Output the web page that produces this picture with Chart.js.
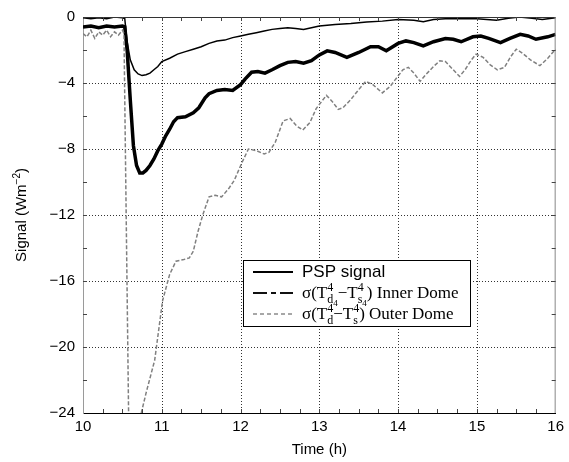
<!DOCTYPE html>
<html>
<head>
<meta charset="utf-8">
<script src="https://cdn.jsdelivr.net/npm/chart.js@4.4.1/dist/chart.umd.min.js"></script>
<style>
  html, body { margin: 0; padding: 0; background: #fff; }
  canvas { display: block; }
</style>
</head>
<body>
<canvas id="chartCanvas" width="569" height="462"></canvas>
<script>
// PSP signal (thin black)
const pspTime = [10.0, 10.1, 10.2, 10.3, 10.4, 10.5, 10.53, 10.56, 10.6, 10.65, 10.7, 10.75, 10.8, 10.85, 10.9, 10.95,
    11.0, 11.1, 11.2, 11.3, 11.4, 11.5, 11.6, 11.7, 11.8, 11.9, 12.0, 12.1, 12.2, 12.3, 12.4, 12.5, 12.6, 12.7, 12.8, 12.9,
    13.0, 13.2, 13.4, 13.6, 13.8, 14.0, 14.2, 14.32, 14.45, 14.6, 14.8, 15.0, 15.25, 15.4, 15.54, 15.7, 15.83, 16.0];
const pspSignal = [-0.05, -0.1, -0.05, -0.1, 0.0, -0.05, -0.1, -1.5, -2.6, -3.2, -3.45, -3.55, -3.5, -3.4, -3.2, -3.0,
    -2.7, -2.5, -2.25, -2.1, -1.95, -1.8, -1.6, -1.45, -1.4, -1.25, -1.15, -1.05, -0.95, -0.85, -0.75, -0.7, -0.65, -0.7, -0.75, -0.65,
    -0.55, -0.45, -0.4, -0.3, -0.25, -0.15, -0.2, -0.28, -0.15, -0.1, -0.1, -0.1, -0.2, -0.08, 0.0, -0.08, -0.15, -0.05];

// inner dome (thick black)
const innerTime = [10.0, 10.1, 10.2, 10.3, 10.4, 10.5, 10.53, 10.56, 10.6, 10.64, 10.68, 10.72, 10.76, 10.8, 10.85, 10.9, 10.95,
    11.0, 11.05, 11.1, 11.15, 11.2, 11.3, 11.4, 11.47, 11.55, 11.6, 11.7, 11.8, 11.9, 12.0, 12.06, 12.14, 12.22, 12.31, 12.4, 12.5,
    12.6, 12.7, 12.8, 12.9, 13.0, 13.1, 13.2, 13.35, 13.5, 13.65, 13.75, 13.85, 14.0, 14.1, 14.2, 14.32, 14.45, 14.6, 14.7, 14.8,
    14.95, 15.05, 15.15, 15.3, 15.42, 15.55, 15.65, 15.75, 15.9, 16.0];
const innerSignal = [-0.6, -0.55, -0.65, -0.55, -0.6, -0.55, -0.6, -2.0, -5.0, -7.8, -9.0, -9.45, -9.45, -9.3, -9.0, -8.6, -8.1,
    -7.7, -7.2, -6.8, -6.35, -6.1, -6.05, -5.8, -5.5, -4.9, -4.65, -4.45, -4.4, -4.45, -4.1, -3.75, -3.35, -3.3, -3.4, -3.2, -2.95,
    -2.75, -2.7, -2.8, -2.65, -2.3, -2.05, -2.15, -2.45, -2.15, -1.8, -1.8, -2.05, -1.6, -1.45, -1.55, -1.75, -1.5, -1.3, -1.35, -1.5,
    -1.2, -1.15, -1.3, -1.55, -1.3, -1.05, -1.15, -1.35, -1.2, -1.05];

// outer dome (grey dashed), drops off the bottom of the axis just after 10.5 h
const outerTime = [10.0, 10.05, 10.1, 10.15, 10.2, 10.25, 10.3, 10.35, 10.4, 10.45, 10.5, 10.52, 10.58, 10.6, 10.68, 10.74,
    10.8, 10.91, 11.01, 11.1, 11.18, 11.28, 11.35, 11.4, 11.46, 11.52, 11.6, 11.68, 11.76, 11.85, 11.92, 12.02, 12.1, 12.2, 12.3,
    12.36, 12.44, 12.54, 12.63, 12.71, 12.79, 12.88, 12.96, 13.09, 13.16, 13.24, 13.3, 13.4, 13.5, 13.59, 13.68, 13.8, 13.9, 13.98,
    14.06, 14.13, 14.2, 14.28, 14.35, 14.45, 14.53, 14.6, 14.7, 14.78, 14.85, 14.93, 14.99, 15.08, 15.17, 15.26, 15.35, 15.43, 15.5,
    15.58, 15.68, 15.8, 15.9, 16.0];
const outerSignal = [-1.0, -1.2, -0.8, -1.3, -0.9, -1.1, -0.8, -1.2, -0.9, -1.1, -0.8, -1.0, -24.5, -40, -40, -24,
    -22.8, -20.8, -17.2, -15.6, -14.8, -14.7, -14.6, -14.2, -13.0, -12.0, -10.9, -10.8, -10.9, -10.4, -9.9, -8.8, -8.0, -8.1, -8.3,
    -8.2, -7.6, -6.3, -6.15, -6.6, -6.85, -6.4, -5.55, -4.75, -5.1, -5.6, -5.5, -5.0, -4.4, -3.9, -4.1, -4.6, -4.2, -3.7,
    -3.2, -3.05, -3.4, -3.9, -3.5, -3.0, -2.65, -2.7, -3.2, -3.6, -3.2, -2.6, -2.25, -2.45, -2.9, -3.2, -3.05, -2.4, -1.95,
    -2.2, -2.6, -2.95, -2.5, -1.95];

const xTickLabels = ["10", "11", "12", "13", "14", "15", "16"];
const yTickLabels = ["0", "\u22124", "\u22128", "\u221212", "\u221216", "\u221220", "\u221224"];

const sansFont = "'Liberation Sans', Arial, sans-serif";
const serifFont = "'Liberation Serif', 'Times New Roman', serif";

function toPoints(t, v) {
    return t.map(function (x, i) {
        return { x: x, y: v[i] };
    });
}

// text with stacked super/subscripts, e.g. T with ^4 and _d
function richWidth(ctx, parts, size, family) {
    let w = 0;
    parts.forEach(function (p) {
        ctx.font = size + "px " + family;
        w += ctx.measureText(p.t || "").width;
        let extra = 0;
        ctx.font = Math.round(size * 0.68) + "px " + family;
        if (p.sup) extra = Math.max(extra, ctx.measureText(p.sup).width);
        if (p.sub) {
            let sw = ctx.measureText(p.sub).width;
            if (p.sub2) {
                ctx.font = Math.round(size * 0.5) + "px " + family;
                sw += ctx.measureText(p.sub2).width;
            }
            extra = Math.max(extra, sw);
        }
        w += extra;
    });
    return w;
}

function drawRich(ctx, x, y, parts, size, family) {
    ctx.textAlign = "left";
    ctx.textBaseline = "alphabetic";
    parts.forEach(function (p) {
        ctx.font = size + "px " + family;
        ctx.fillText(p.t || "", x, y);
        x += ctx.measureText(p.t || "").width;
        let extra = 0;
        const small = Math.round(size * 0.68);
        ctx.font = small + "px " + family;
        if (p.sup) {
            ctx.fillText(p.sup, x, y - size * 0.42);
            extra = Math.max(extra, ctx.measureText(p.sup).width);
        }
        if (p.sub) {
            ctx.fillText(p.sub, x, y + size * 0.3);
            let sw = ctx.measureText(p.sub).width;
            if (p.sub2) {
                ctx.font = Math.round(size * 0.5) + "px " + family;
                ctx.fillText(p.sub2, x + sw, y + size * 0.45);
                sw += ctx.measureText(p.sub2).width;
            }
            extra = Math.max(extra, sw);
        }
        x += extra;
    });
}

const legendRows = [
    { parts: [{ t: "PSP signal" }], family: sansFont, color: "#000", width: 2, dash: [] },
    {
        parts: [{ t: "\u03c3(T", sup: "4", sub: "d", sub2: "4" }, { t: "\u2212T", sup: "4", sub: "s", sub2: "4" }, { t: ") Inner Dome" }],
        family: serifFont, color: "#111", width: 2, dash: [14, 4, 5, 4]
    },
    {
        parts: [{ t: "\u03c3(T", sup: "4", sub: "d" }, { t: "\u2212T", sup: "4", sub: "s" }, { t: ") Outer Dome" }],
        family: serifFont, color: "#8a8a8a", width: 1.5, dash: [4, 3]
    }
];

// dotted grid at the labelled ticks, under the curves
const dottedGrid = {
    id: "dottedGrid",
    beforeDatasetsDraw: function (chart) {
        const ctx = chart.ctx;
        const area = chart.chartArea;
        const xs = chart.scales.x;
        const ys = chart.scales.y;
        ctx.save();
        ctx.strokeStyle = "#333";
        ctx.lineWidth = 1;
        ctx.setLineDash([1, 2]);
        ctx.beginPath();
        xTickLabels.slice(1, -1).forEach(function (l) {
            const px = Math.round(xs.getPixelForValue(parseFloat(l))) + 0.5;
            ctx.moveTo(px, area.top);
            ctx.lineTo(px, area.bottom);
        });
        yTickLabels.slice(1, -1).forEach(function (l, i) {
            const py = Math.round(ys.getPixelForValue(-4 * (i + 1))) + 0.5;
            ctx.moveTo(area.left, py);
            ctx.lineTo(area.right, py);
        });
        ctx.stroke();
        ctx.restore();
    }
};

const decorations = {
    id: "decorations",
    afterDraw: function (chart) {
        const ctx = chart.ctx;
        const area = chart.chartArea;
        const xs = chart.scales.x;
        const ys = chart.scales.y;
        ctx.save();

        // frame: top and right edges
        ctx.lineWidth = 1;
        ctx.strokeStyle = "#333";
        ctx.beginPath();
        ctx.moveTo(area.left, area.top + 0.5);
        ctx.lineTo(area.right, area.top + 0.5);
        ctx.stroke();
        ctx.strokeStyle = "#888";
        ctx.beginPath();
        ctx.moveTo(area.right - 0.5, area.top);
        ctx.lineTo(area.right - 0.5, area.bottom);
        ctx.stroke();

        // inward minor ticks on all four sides
        ctx.strokeStyle = "#444";
        ctx.beginPath();
        for (let t = 10.25; t < 16; t += 0.25) {
            const px = Math.round(xs.getPixelForValue(t)) + 0.5;
            ctx.moveTo(px, area.bottom);
            ctx.lineTo(px, area.bottom - 4);
            ctx.moveTo(px, area.top);
            ctx.lineTo(px, area.top + 4);
        }
        for (let v = -22; v < 0; v += 2) {
            const py = Math.round(ys.getPixelForValue(v)) + 0.5;
            ctx.moveTo(area.left, py);
            ctx.lineTo(area.left + 4, py);
            ctx.moveTo(area.right, py);
            ctx.lineTo(area.right - 4, py);
        }
        ctx.stroke();

        // y axis title with superscript
        ctx.fillStyle = "#000";
        const yTitle = [{ t: "Signal (Wm", sup: "\u22122" }, { t: ")" }];
        ctx.translate(21, (area.top + area.bottom) / 2);
        ctx.rotate(-Math.PI / 2);
        const tw = richWidth(ctx, yTitle, 15, sansFont);
        drawRich(ctx, -tw / 2, 5, yTitle, 15, sansFont);
        ctx.setTransform(1, 0, 0, 1, 0, 0);

        // legend box
        const bx = 243.5, by = 260.5, bw = 227, bh = 66;
        ctx.fillStyle = "#fff";
        ctx.fillRect(bx, by, bw, bh);
        ctx.strokeStyle = "#000";
        ctx.lineWidth = 1;
        ctx.strokeRect(bx, by, bw, bh);
        legendRows.forEach(function (row, i) {
            const ly = 272 + i * 21;
            ctx.strokeStyle = row.color;
            ctx.lineWidth = row.width;
            ctx.setLineDash(row.dash);
            ctx.beginPath();
            ctx.moveTo(253, ly);
            ctx.lineTo(293, ly);
            ctx.stroke();
            ctx.setLineDash([]);
            ctx.fillStyle = "#000";
            drawRich(ctx, 302, ly + 5, row.parts, 17, row.family);
        });
        ctx.restore();
    }
};

const ctx = document.getElementById("chartCanvas").getContext("2d");

const chart = new Chart(ctx, {
    type: "line",
    data: {
        datasets: [
            {
                label: "Outer Dome",
                data: toPoints(outerTime, outerSignal),
                borderColor: "#808080",
                borderWidth: 1.5,
                borderDash: [4, 2]
            },
            {
                label: "Inner Dome",
                data: toPoints(innerTime, innerSignal),
                borderColor: "#000",
                borderWidth: 3.5
            },
            {
                label: "PSP signal",
                data: toPoints(pspTime, pspSignal),
                borderColor: "#000",
                borderWidth: 1.5
            }
        ]
    },
    options: {
        responsive: false,
        animation: false,
        devicePixelRatio: 1,
        layout: { padding: { left: 0, right: 9, top: 12, bottom: 0 } },
        elements: { point: { radius: 0 }, line: { tension: 0 } },
        plugins: {
            legend: { display: false },
            tooltip: { enabled: false }
        },
        scales: {
            x: {
                type: "linear",
                min: 10,
                max: 16,
                afterFit: function (scale) { scale.height = 49; },
                afterBuildTicks: function (scale) {
                    scale.ticks = xTickLabels.map(function (l) { return { value: parseFloat(l) }; });
                },
                ticks: {
                    autoSkip: false,
                    maxRotation: 0,
                    padding: 5,
                    color: "#000",
                    font: { family: sansFont, size: 15 },
                    callback: function (value, index) { return xTickLabels[index]; }
                },
                grid: { display: false, drawTicks: false },
                border: { color: "#000", width: 1 },
                title: {
                    display: true,
                    text: "Time (h)",
                    color: "#000",
                    font: { family: sansFont, size: 15 },
                    padding: { top: 0, bottom: 3 }
                }
            },
            y: {
                type: "linear",
                min: -24,
                max: 0,
                afterFit: function (scale) { scale.width = 83; },
                afterBuildTicks: function (scale) {
                    scale.ticks = yTickLabels.map(function (l, i) { return { value: -4 * i }; });
                },
                ticks: {
                    autoSkip: false,
                    padding: 8,
                    color: "#000",
                    font: { family: sansFont, size: 15 },
                    callback: function (value) { return yTickLabels[Math.round(-value / 4)]; }
                },
                grid: { display: false, drawTicks: false },
                border: { color: "#9a9a9a", width: 1 }
            }
        }
    },
    plugins: [dottedGrid, decorations]
});
</script>
</body>
</html>
